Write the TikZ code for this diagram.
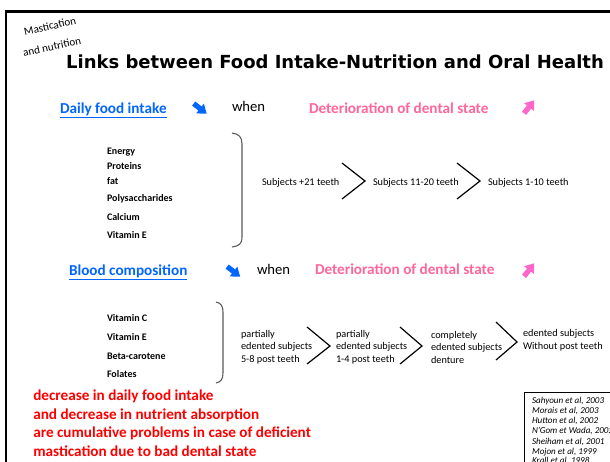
\documentclass[tikz,border=0pt]{standalone}
\usepackage{fontspec}
\setmainfont{Carlito}
\newfontfamily\titlefont{DejaVu Sans}
\begin{document}
\begin{tikzpicture}[x=0.75pt,y=-0.75pt]
\definecolor{blueC}{RGB}{0,102,255}
\definecolor{pinkT}{RGB}{255,102,153}
\definecolor{pinkA}{RGB}{255,102,204}
\definecolor{redT}{RGB}{255,0,0}
\tikzset{
  txt/.style={inner sep=0pt, outer sep=0pt, anchor=mid west},
  hdr/.style={txt, font=\fontsize{11.4}{13}\selectfont\bfseries},
  plain/.style={txt, font=\fontsize{11}{13}\selectfont},
  item/.style={txt, font=\fontsize{7.5}{9}\selectfont\bfseries},
  small/.style={txt, font=\fontsize{7.7}{9.4}\selectfont},
  multi/.style={inner sep=0pt, outer sep=0pt, anchor=west, align=left, font=\fontsize{7.7}{9.4}\selectfont},
  cite/.style={txt, font=\fontsize{6.8}{8}\selectfont\itshape},
  chev/.style={line width=0.9pt, black},
  brack/.style={line width=0.8pt, black!65},
  barrow/.pic={\path[pic actions] (-8,-2.6) -- (0,-2.6) -- (0,-6.2) -- (8.5,0) -- (0,6.2) -- (0,2.6) -- (-8,2.6) -- cycle;}
}
\useasboundingbox (0,0) rectangle (610,461);
\clip (0,0) rectangle (610,461);
\fill[white] (0,0) rectangle (610,461);
\draw[line width=2pt] (6,11.5) rectangle (720,600);

% corner label
\node[rotate=12, inner sep=0pt, font=\fontsize{8.3}{10}\selectfont] (mast) at (50,26) {Mastication};
\node[rotate=12, inner sep=0pt, font=\fontsize{8.3}{10}\selectfont] (nutr) at (52,46.5) {and nutrition};

% title
\node[inner sep=0pt, font=\titlefont\bfseries\fontsize{13.5}{15}\selectfont] (title) at (335,62) {Links between Food Intake-Nutrition and Oral Health};

% row 1 header
\node[hdr, text=blueC] (dfi) at (60,110) {\underline{Daily food intake}};
\pic[fill=blueC, rotate=-38] at (200,108.5) {barrow};
\node[plain] (when1) at (232,108) {when};
\node[hdr, text=pinkT] (det1) at (309,110) {Deterioration of dental state};
\pic[fill=pinkA, rotate=52] at (529,107) {barrow};

% list 1
\foreach \t/\y [count=\i] in {Energy/151, Proteins/166, fat/181, Polysaccharides/198, Calcium/217, Vitamin E/235}
  \node[item] (la\i) at (107,\y) {\t};
\draw[brack] (232,133) .. controls (239,134) and (242,137) .. (242,144) -- (242,237) .. controls (242,244) and (239,246) .. (232,247);

% subjects row 1
\node[small] (s1) at (262,182) {Subjects +21 teeth};
\draw[chev] (342,163) -- (365,181) -- (342,199);
\node[small] (s2) at (373,182) {Subjects 11-20 teeth};
\draw[chev] (457,163) -- (480,181) -- (457,199);
\node[small] (s3) at (488,182) {Subjects 1-10 teeth};

% row 2 header
\node[hdr, text=blueC] (blood) at (69,272) {\underline{Blood composition}};
\pic[fill=blueC, rotate=-38] at (233.5,271.5) {barrow};
\node[plain] (when2) at (257,271) {when};
\node[hdr, text=pinkT] (det2) at (315,271) {Deterioration of dental state};
\pic[fill=pinkA, rotate=52] at (529,270) {barrow};

% list 2
\foreach \t/\y [count=\i] in {Vitamin C/318, Vitamin E/337, Beta-carotene/356, Folates/374}
  \node[item] (lb\i) at (107,\y) {\t};
\draw[brack] (216,302) .. controls (221,303) and (223,306) .. (223,312) -- (223,373) .. controls (223,379) and (221,382) .. (216,383);

% subjects row 2
\node[multi] (p1) at (241,347) {partially\\edented subjects\\5-8 post teeth};
\draw[chev] (307,327) -- (330,346) -- (307,364);
\node[multi] (p2) at (336,347) {partially\\edented subjects\\1-4 post teeth};
\draw[chev] (400,327) -- (422,346) -- (400,364);
\node[multi] (p3) at (431,347) {completely\\edented subjects\\denture};
\draw[chev] (496,322) -- (517,342) -- (496,360);
\node[multi] (p4) at (523,340) {edented subjects\\Without post teeth};

% red conclusion
\node[inner sep=0pt, anchor=west, align=left, text=redT, font=\fontsize{11.4}{13.9}\selectfont\bfseries] (concl) at (33,423) {decrease in daily food intake\\and decrease in nutrient absorption\\are cumulative problems in case of deficient\\mastication due to bad dental state};

% citations
\draw[line width=0.6pt] (524,392) rectangle (700,600);
\foreach \t/\y [count=\i] in {{Sahyoun et al, 2003}/400, {Morais et al, 2003}/410.5, {Hutton et al, 2002}/420.5, {N'Gom et Wada, 2002}/430.5, {Sheiham et al, 2001}/441, {Mojon et al, 1999}/451, {Krall et al, 1998}/460}
  \node[cite] (c\i) at (532,\y) {\t};
\end{tikzpicture}
\end{document}
